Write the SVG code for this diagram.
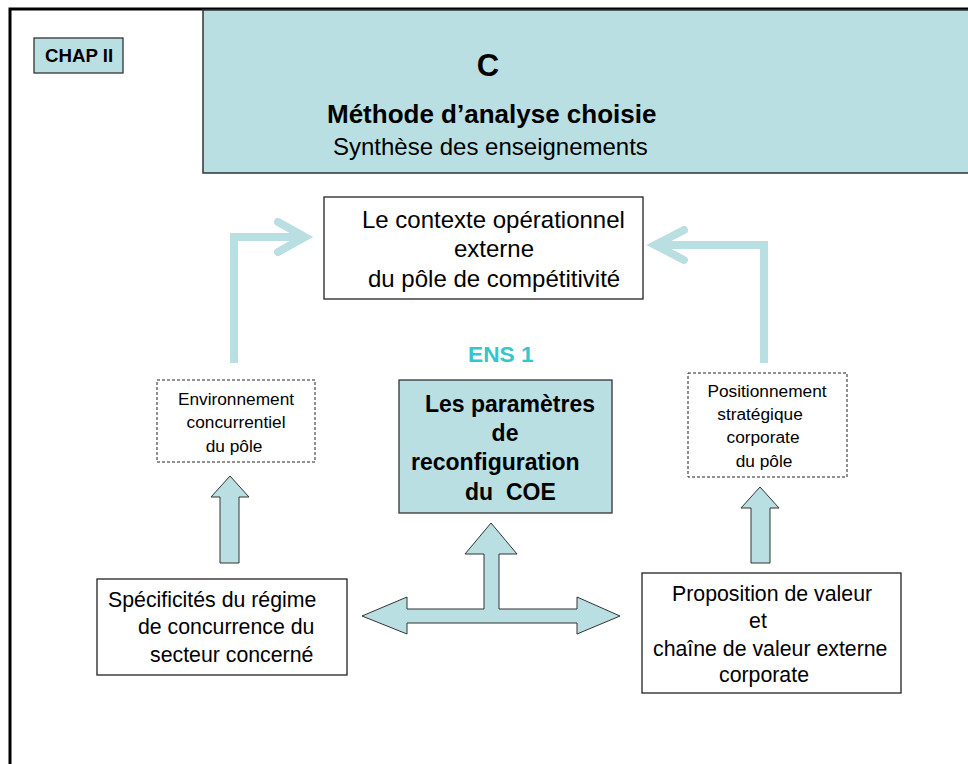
<svg xmlns="http://www.w3.org/2000/svg" width="968" height="764" viewBox="0 0 968 764">
  <style>
    text { font-family: "Liberation Sans", Arial, sans-serif; fill: #000; }
    .b { font-weight: bold; }
    .box { fill: #fff; stroke: #222; stroke-width: 1.3; }
    .dash { fill: #fff; stroke: #222; stroke-width: 1; stroke-dasharray: 3 2; }
    .teal { fill: #badfe3; stroke: #333; stroke-width: 1.3; }
    .flow { fill: none; stroke: #badfe3; stroke-width: 8; }
    .head { fill: none; stroke: #badfe3; stroke-width: 8; stroke-linecap: round; stroke-linejoin: miter; }
    .block { fill: #badfe3; stroke: #333; stroke-width: 1; }
  </style>

  <rect width="968" height="764" fill="#fff"/>

  <!-- page frame -->
  <path d="M10,764 V9 H968" fill="none" stroke="#000" stroke-width="3"/>

  <g id="chap">
    <rect class="teal" x="34" y="38" width="89" height="35"/>
    <text class="b" x="45" y="62" font-size="18.7">CHAP II</text>
  </g>

  <g id="title">
    <rect x="203" y="10" width="770" height="163" fill="#badfe3" stroke="#333" stroke-width="1.5"/>
    <text class="b" x="488" y="76" font-size="31" text-anchor="middle">C</text>
    <text class="b" x="327" y="123" font-size="26">Méthode d’analyse choisie</text>
    <text x="333" y="155" font-size="24">Synthèse des enseignements</text>
  </g>

  <g id="contexte">
    <rect class="box" x="324" y="197" width="319" height="102"/>
    <text x="362" y="228" font-size="24">Le contexte opérationnel</text>
    <text x="494" y="257" font-size="24" text-anchor="middle">externe</text>
    <text x="368" y="287" font-size="24">du pôle de compétitivité</text>
  </g>

  <g id="ens1">
    <text class="b" x="468" y="362" font-size="22.7" style="fill:#33c6cc">ENS 1</text>
  </g>

  <g id="environnement">
    <rect class="dash" x="157" y="380" width="158" height="82"/>
    <g font-size="17.3" text-anchor="middle">
      <text x="236" y="405">Environnement</text>
      <text x="236" y="428">concurrentiel</text>
      <text x="234" y="452">du pôle</text>
    </g>
  </g>

  <g id="parametres">
    <rect class="teal" x="399" y="380" width="213" height="133"/>
    <g class="b" font-size="23">
      <text x="425" y="412">Les paramètres</text>
      <text x="505" y="441" text-anchor="middle">de</text>
      <text x="411" y="470">reconfiguration</text>
      <text x="465" y="500" xml:space="preserve">du  COE</text>
    </g>
  </g>

  <g id="positionnement">
    <rect class="dash" x="688" y="373" width="159" height="104"/>
    <g font-size="17.3" text-anchor="middle">
      <text x="767" y="397">Positionnement</text>
      <text x="760" y="420">stratégique</text>
      <text x="763" y="443">corporate</text>
      <text x="764" y="467">du pôle</text>
    </g>
  </g>

  <g id="specificites">
    <rect class="box" x="97" y="579" width="250" height="96"/>
    <g font-size="21.3">
      <text x="108" y="607">Spécificités du régime</text>
      <text x="138" y="634">de concurrence du</text>
      <text x="150" y="662">secteur concerné</text>
    </g>
  </g>

  <g id="proposition">
    <rect class="box" x="642" y="573" width="259" height="120"/>
    <g font-size="21.3">
      <text x="672" y="601">Proposition de valeur</text>
      <text x="758" y="628" text-anchor="middle">et</text>
      <text x="653" y="656">chaîne de valeur externe</text>
      <text x="719" y="682">corporate</text>
    </g>
  </g>

  <g id="connectors">
    <!-- elbow flows toward the context box -->
    <path class="flow" d="M234,363 V237 H304"/>
    <path class="head" d="M278,222 L305,237 L278,252"/>
    <path class="flow" d="M764,363 V245 H656"/>
    <path class="head" d="M684,230 L655,245 L684,260"/>

    <!-- block arrows -->
    <polygon class="block" points="230,476 249,497 239,497 239,563 220,563 220,497 211,497"/>
    <polygon class="block" points="760,487 779,508 770,508 770,563 751,563 751,508 741,508"/>
    <polygon class="block" points="491,523 517,554 499,554 499,609 577,609 577,597 620,616 577,634 577,623 407,623 407,634 362,616 407,597 407,609 484,609 484,554 465,554"/>
  </g>
</svg>
